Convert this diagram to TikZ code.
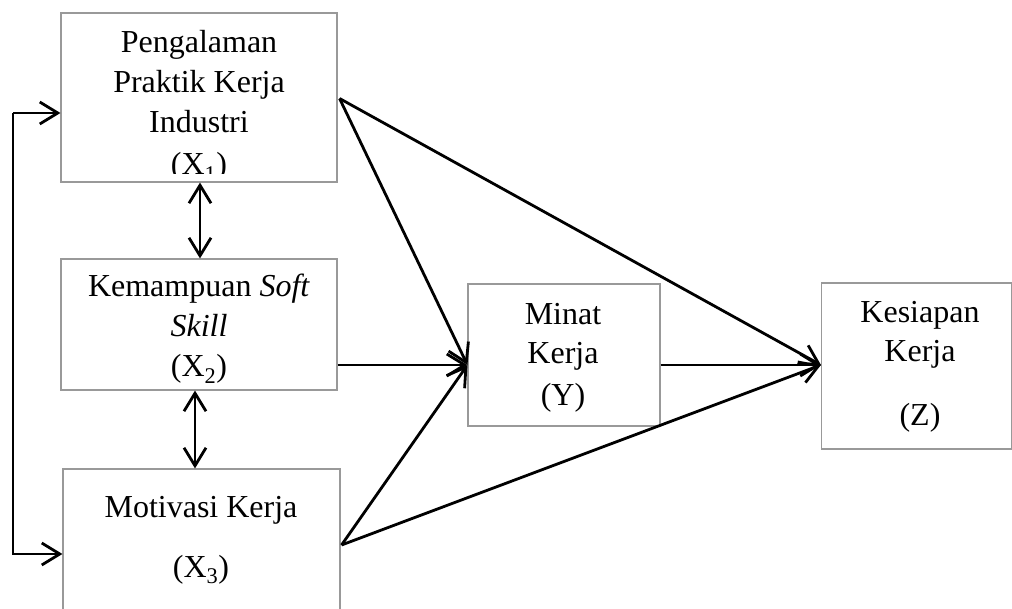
\documentclass[tikz,border=0pt]{standalone}
\usepackage{fontspec}
\setmainfont{Liberation Serif}
\usetikzlibrary{arrows.meta,calc}

\tikzset{
  varbox/.style={draw=gray!80, line width=1.1pt, rectangle, inner sep=0pt},
  lbl/.style={anchor=base, inner sep=0pt, font=\fontsize{32}{38}\selectfont},
  barb/.tip={Straight Barb[length=18pt,width=22pt,line width=2.8pt]},
  arr/.style={line width=2.8pt, -barb},
  darr/.style={line width=2.8pt, barb-barb}
}

\begin{document}
\begin{tikzpicture}[x=1pt,y=-1pt]
\useasboundingbox (0,0) rectangle (1012,609);

% variable boxes
\node[varbox, minimum width=276pt, minimum height=169pt] (x1) at (199,97.5) {};
\node[varbox, minimum width=276pt, minimum height=131pt] (x2) at (199,324.5) {};
\node[varbox, minimum width=277pt, minimum height=152pt] (x3) at (201.5,545) {};
\node[varbox, minimum width=192pt, minimum height=142pt] (y) at (564,355) {};
\node[varbox, minimum width=190pt, minimum height=166pt] (z) at (916.5,366) {};

% labels of X1, cut off by the inner margin of the box
\begin{scope}
  \clip (61,13) rectangle (337,174);
  \node[lbl] (t11) at (199,53) {Pengalaman};
  \node[lbl] (t12) at (199,93) {Praktik Kerja};
  \node[lbl] (t13) at (199,133) {Industri};
  \node[lbl] (t14) at (199,175) {(X\textsubscript{1})};
\end{scope}

\node[lbl] (t21) at (199,297) {Kemampuan \textit{Soft}};
\node[lbl] (t22) at (199,337) {\textit{Skill}};
\node[lbl] (t23) at (199,377) {(X\textsubscript{2})};

\node[lbl] (t31) at (201,517) {Motivasi Kerja};
\node[lbl] (t32) at (201,577) {(X\textsubscript{3})};

\node[lbl] (ty1) at (563,325) {Minat};
\node[lbl] (ty2) at (563,364) {Kerja};
\node[lbl] (ty3) at (563,406) {(Y)};

\node[lbl] (tz1) at (920,323) {Kesiapan};
\node[lbl] (tz2) at (920,362) {Kerja};
\node[lbl] (tz3) at (920,425) {(Z)};

% helper coordinates
\coordinate (mid) at (0,365);
\coordinate (fbtop) at (13,113);
\coordinate (fbbot) at (13,554);
\coordinate (c23) at (195,0);
\coordinate (c12) at (200,0);

% feedback line on the left
\draw[arr] (fbtop) -- (x1.west |- fbtop);
\draw[arr, line join=miter] (fbtop) -- (fbbot) -- (x3.west |- fbbot);

% correlations between the X variables
\draw[darr] (x1.south -| c12) -- (x2.north -| c12);
\draw[darr] (x2.south -| c23) -- (x3.north -| c23);

% paths into Y
\draw[arr] ($(x1.east)+(2,1)$) coordinate (s1) -- (y.west |- mid);
\draw[arr] (x2.east |- mid) -- (y.west |- mid);
\draw[arr] ($(x3.east)+(1,0)$) coordinate (s3) -- (y.west |- mid);

% paths into Z
\draw[arr] (s1) -- (z.west |- mid);
\draw[arr] (y.east |- mid) -- (z.west |- mid);
\draw[arr] (s3) -- (z.west |- mid);
\end{tikzpicture}
\end{document}
